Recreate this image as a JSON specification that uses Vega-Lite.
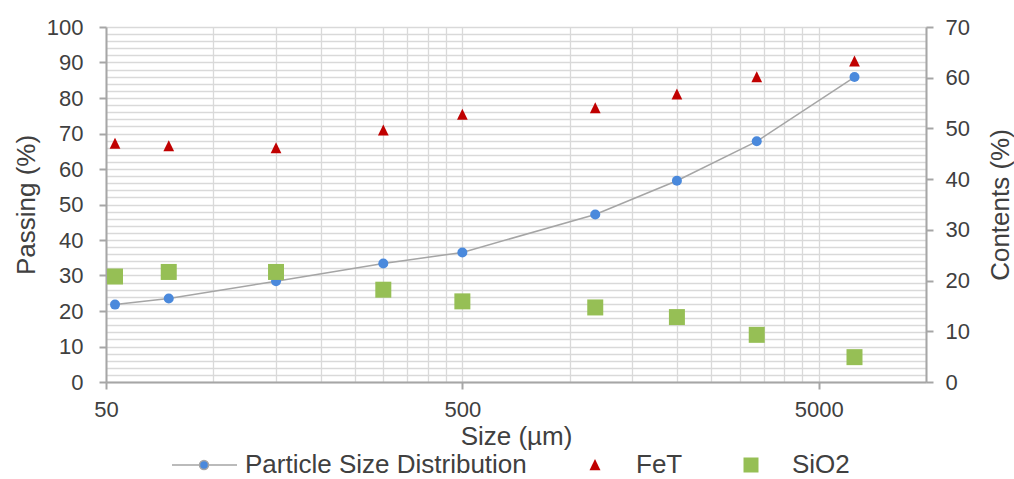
{
  "$schema": "https://vega.github.io/schema/vega-lite/v6.json",
  "width": 820,
  "height": 355,
  "autosize": {"type": "none"},
  "padding": {"left": 106, "top": 27, "right": 88, "bottom": 97},
  "background": "white",
  "config": {
    "font": "Liberation Sans",
    "view": {"stroke": null},
    "axis": {
      "domainColor": "#a6a6a6",
      "domainWidth": 2,
      "tickColor": "#a6a6a6",
      "tickWidth": 2,
      "tickSize": 7,
      "labelColor": "#404040",
      "titleColor": "#404040",
      "labelFontSize": 22,
      "titleFontSize": 26,
      "titleFontWeight": "normal",
      "gridColor": "#d9d9d9",
      "gridWidth": 1.3,
      "labelOverlap": false
    }
  },
  "data": {
    "values": [
      {"series": "Particle Size Distribution", "size": 53, "value": 21.8},
      {"series": "Particle Size Distribution", "size": 75, "value": 23.5},
      {"series": "Particle Size Distribution", "size": 150, "value": 28.4},
      {"series": "Particle Size Distribution", "size": 300, "value": 33.4},
      {"series": "Particle Size Distribution", "size": 500, "value": 36.5},
      {"series": "Particle Size Distribution", "size": 1180, "value": 47.2},
      {"series": "Particle Size Distribution", "size": 2000, "value": 56.7},
      {"series": "Particle Size Distribution", "size": 3350, "value": 67.8},
      {"series": "Particle Size Distribution", "size": 6300, "value": 85.9},
      {"series": "FeT", "size": 53, "value": 47.0},
      {"series": "FeT", "size": 75, "value": 46.5},
      {"series": "FeT", "size": 150, "value": 46.1},
      {"series": "FeT", "size": 300, "value": 49.6},
      {"series": "FeT", "size": 500, "value": 52.7},
      {"series": "FeT", "size": 1180, "value": 54.0},
      {"series": "FeT", "size": 2000, "value": 56.7},
      {"series": "FeT", "size": 3350, "value": 60.1},
      {"series": "FeT", "size": 6300, "value": 63.2},
      {"series": "SiO2", "size": 53, "value": 20.8},
      {"series": "SiO2", "size": 75, "value": 21.7},
      {"series": "SiO2", "size": 150, "value": 21.7},
      {"series": "SiO2", "size": 300, "value": 18.2},
      {"series": "SiO2", "size": 500, "value": 15.9},
      {"series": "SiO2", "size": 1180, "value": 14.7},
      {"series": "SiO2", "size": 2000, "value": 12.8},
      {"series": "SiO2", "size": 3350, "value": 9.3},
      {"series": "SiO2", "size": 6300, "value": 4.9}
    ]
  },
  "encoding": {
    "x": {
      "field": "size",
      "type": "quantitative",
      "scale": {"type": "log", "domain": [50, 10000], "nice": false},
      "axis": {
        "title": "Size (µm)",
        "values": [50, 100, 150, 200, 250, 300, 350, 400, 450, 500, 1000, 1500, 2000, 2500, 3000, 3500, 4000, 4500, 5000, 10000],
        "labelExpr": "indexof([50, 500, 5000], datum.value) >= 0 ? '' + datum.value : ''",
        "tickOpacity": {"condition": {"test": "indexof([50, 500, 5000], datum.value) < 0", "value": 0}, "value": 1},
        "labelFlush": false,
        "labelPadding": 10,
        "titlePadding": 3,
        "grid": true
      }
    }
  },
  "layer": [
    {
      "transform": [{"filter": "datum.series === 'Particle Size Distribution'"}],
      "mark": {"type": "line", "color": "#a5a5a5", "strokeWidth": 1.5},
      "encoding": {
        "y": {
          "field": "value",
          "type": "quantitative",
          "scale": {"domain": [0, 100], "nice": false},
          "axis": {
            "title": "Passing (%)",
            "values": [0, 2, 4, 6, 8, 10, 12, 14, 16, 18, 20, 22, 24, 26, 28, 30, 32, 34, 36, 38, 40, 42, 44, 46, 48, 50, 52, 54, 56, 58, 60, 62, 64, 66, 68, 70, 72, 74, 76, 78, 80, 82, 84, 86, 88, 90, 92, 94, 96, 98, 100],
            "labelExpr": "datum.value % 10 === 0 ? '' + datum.value : ''",
            "tickOpacity": {"condition": {"test": "datum.value % 10 !== 0", "value": 0}, "value": 1},
            "labelPadding": 16,
            "titlePadding": 7,
            "grid": true
          }
        }
      }
    },
    {
      "transform": [{"filter": "datum.series === 'Particle Size Distribution'"}],
      "mark": {"type": "point", "filled": true, "opacity": 1, "size": 100, "shape": "circle"},
      "encoding": {
        "y": {"field": "value", "type": "quantitative", "scale": {"domain": [0, 100], "nice": false}, "axis": null},
        "color": {
          "field": "series",
          "type": "nominal",
          "scale": {"domain": ["Particle Size Distribution", "FeT", "SiO2"], "range": ["#4a89dc", "#c00000", "#96bf55"]},
          "legend": {
            "title": null,
            "orient": "none",
            "legendX": 85,
            "legendY": 425,
            "direction": "horizontal",
            "labelFontSize": 26,
            "labelColor": "#404040",
            "labelFont": "Liberation Sans",
            "labelLimit": 500,
            "symbolSize": 100,
            "labelOffset": 28,
            "columnPadding": 55,
            "symbolOpacity": 1,
            "encode": {
              "symbols": {
                "update": {
                  "stroke": {"signal": "datum.value === 'Particle Size Distribution' ? '#a5a5a5' : 'transparent'"},
                  "strokeWidth": {"value": 1.5},
                  "size": {"signal": "datum.value === 'SiO2' ? 225 : datum.value === 'FeT' ? 120 : 100"}
                }
              }
            }
          }
        }
      }
    },
    {
      "transform": [{"filter": "datum.series !== 'Particle Size Distribution'"}],
      "mark": {"type": "point", "filled": true, "opacity": 1},
      "encoding": {
        "y": {
          "field": "value",
          "type": "quantitative",
          "scale": {"domain": [0, 70], "nice": false},
          "axis": {
            "orient": "right",
            "title": "Contents (%)",
            "values": [0, 10, 20, 30, 40, 50, 60, 70],
            "labelPadding": 12,
            "titlePadding": 18,
            "titleAngle": 270,
            "titleBaseline": "top",
            "grid": false
          }
        },
        "color": {"field": "series", "type": "nominal"},
        "shape": {
          "field": "series",
          "type": "nominal",
          "scale": {
            "domain": ["Particle Size Distribution", "FeT", "SiO2"],
            "range": [
              "M-6.4,0H-0.9M0.9,0H6.6M0.9,0C0.9,0.497 0.497,0.9 0,0.9C-0.497,0.9 -0.9,0.497 -0.9,0C-0.9,-0.497 -0.497,-0.9 0,-0.9C0.497,-0.9 0.9,-0.497 0.9,0Z",
              "M0,-1.1L-1,0.95L1,0.95Z",
              "square"
            ]
          }
        },
        "size": {
          "field": "series",
          "type": "ordinal",
          "scale": {"domain": ["FeT", "SiO2"], "range": [115, 256]},
          "legend": null
        }
      }
    }
  ],
  "resolve": {"scale": {"y": "independent"}}
}
